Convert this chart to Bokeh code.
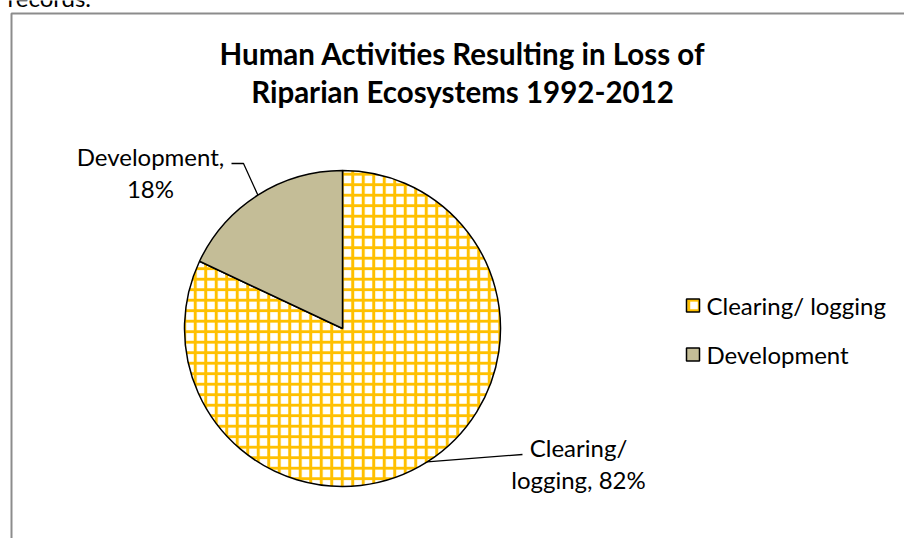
import math
from bokeh.plotting import figure
from bokeh.models import Range1d, ColumnDataSource
from bokeh.core.properties import value
from bokeh.embed import file_html
from bokeh.resources import INLINE

# ---- data ----
categories = ["Clearing/ logging", "Development"]
shares = [82, 18]
title_lines = ["Human Activities Resulting in Loss of", "Riparian Ecosystems 1992-2012"]
page_text = "records."

# ---- styles ----
fills = ["#FFFFFF", "#C4BD97"]
hatches = ["+", " "]
HATCH_COLOR = "#FFC000"
FONT = "Lato"

W, H = 904, 538
PAGE_H = 538


def Y(py):
    # page pixel y -> data y (y up)
    return PAGE_H - py


p = figure(width=W, height=H, output_backend="svg", toolbar_location=None,
           x_range=Range1d(0, W), y_range=Range1d(Y(H), Y(0)),
           min_border=0, outline_line_color=None)
p.axis.visible = False
p.grid.visible = False
p.background_fill_color = "white"
p.border_fill_color = "white"

# cropped surrounding document text (only its lower edge is in view)
p.text(x=[7], y=[Y(-3)], text=[page_text], text_font=value(FONT), text_font_size="24px",
       text_align="left", text_baseline="alphabetic", text_color="black")

# chart area border (cropped frame)
p.line(x=[11, 11, 930], y=[Y(560), Y(13), Y(13)], line_color="#8C8C8C", line_width=2)

# title
p.text(x=[462, 462], y=[Y(53), Y(91)], text=title_lines,
       text_font=value(FONT), text_font_style="bold", text_font_size="29.5px",
       text_align="center", text_baseline="middle", text_color="black")

# pie
cx, cy, r = 342, Y(328), 158
total = sum(shares)
starts, ends, mids = [], [], []
cum = 0.0
for s in shares:
    a0 = math.pi / 2 - 2 * math.pi * cum / total
    cum += s
    a1 = math.pi / 2 - 2 * math.pi * cum / total
    starts.append(a0)
    ends.append(a1)
    mids.append((a0 + a1) / 2)

src = ColumnDataSource(dict(start=starts, end=ends, fill=fills, hatch=hatches))
p.wedge(x=cx, y=cy, radius=r, start_angle="start", end_angle="end", direction="clock",
        fill_color="fill", hatch_pattern="hatch", hatch_color=HATCH_COLOR,
        hatch_scale=10.5, hatch_weight=3, source=src,
        line_color="black", line_width=1.5)

# data labels with leader lines
def label_text(cat, pct):
    full = f"{cat}, {pct}%"
    if "/ " in cat:
        return full.replace("/ ", "/\n", 1)
    return full.replace(", ", ",\n", 1)

label_pos = [(578, 463), (150, 172)]
leader_knee = [[(522, 454)], [(243, 163), (231, 163)]]
for i, (cat, s) in enumerate(zip(categories, shares)):
    ex = cx + r * math.cos(mids[i])
    ey = cy + r * math.sin(mids[i])
    pts = [(ex, ey)] + [(kx, Y(ky)) for kx, ky in leader_knee[i]]
    p.line(x=[q[0] for q in pts], y=[q[1] for q in pts], line_color="black", line_width=1.3)
    lx, ly = label_pos[i]
    p.text(x=[lx], y=[Y(ly)], text=[label_text(cat, s)],
           text_font=value(FONT), text_font_size="24px", text_line_height=1.12,
           text_align="center", text_baseline="middle", text_color="black")

# legend
leg_y = [305, 354]
p.rect(x=[692.5] * 2, y=[Y(v) for v in leg_y], width=13, height=13,
       fill_color=fills, hatch_pattern=hatches, hatch_color=HATCH_COLOR,
       hatch_scale=10.5, hatch_weight=3, line_color="black", line_width=1.5)
p.text(x=[706] * 2, y=[Y(v) for v in leg_y], text=categories,
       text_font=value(FONT), text_font_size="24px",
       text_align="left", text_baseline="middle", text_color="black")

open("out.html", "w").write(file_html(p, INLINE))
